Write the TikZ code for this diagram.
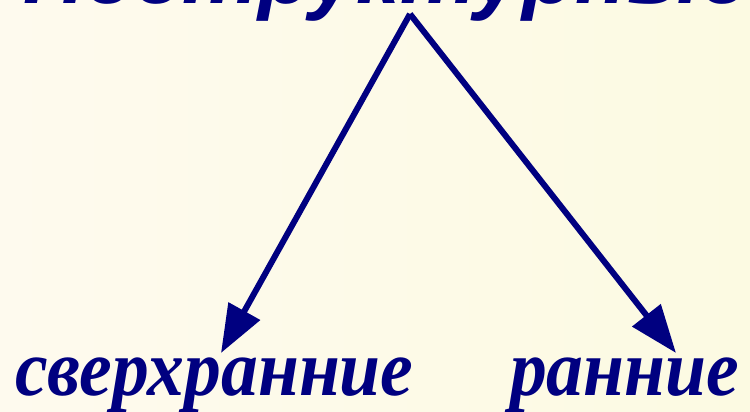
\documentclass[tikz,border=0pt]{standalone}
\usepackage{fontspec}
\setmainfont{Liberation Serif}
\newfontfamily\titlefont{Liberation Sans}
\usetikzlibrary{arrows.meta}
\definecolor{navy}{HTML}{000080}
\definecolor{bgleft}{HTML}{FEFAEE}
\definecolor{bgright}{HTML}{FCFAE2}
\tikzset{
  conn/.style={draw=navy, line width=6pt, -{Triangle[length=48pt,width=35pt]}},
  toptext/.style={text=navy, inner sep=0pt, anchor=base, font=\titlefont\bfseries\itshape\fontsize{86}{86}\selectfont},
  bottext/.style={text=navy, inner sep=0pt, anchor=base west, xscale=0.92, font=\bfseries\itshape\fontsize{80}{80}\selectfont}
}
\begin{document}
\begin{tikzpicture}[x=1pt,y=1pt]
\shade[left color=bgleft, right color=bgright] (0,0) rectangle (750,-412);
\useasboundingbox (0,0) rectangle (750,-412);
\node[toptext] (title) at (386,-4) {Неструктурные};
\coordinate (apex) at (410,-14);
\node[bottext] (left) at (15,-395) {сверхранние};
\node[bottext] (right) at (510,-395) {ранние};
\coordinate (ltip) at (221,-353);
\coordinate (rtip) at (676,-353);
\draw[conn] (apex) -- (ltip);
\draw[conn] (apex) -- (rtip);
\end{tikzpicture}
\end{document}
